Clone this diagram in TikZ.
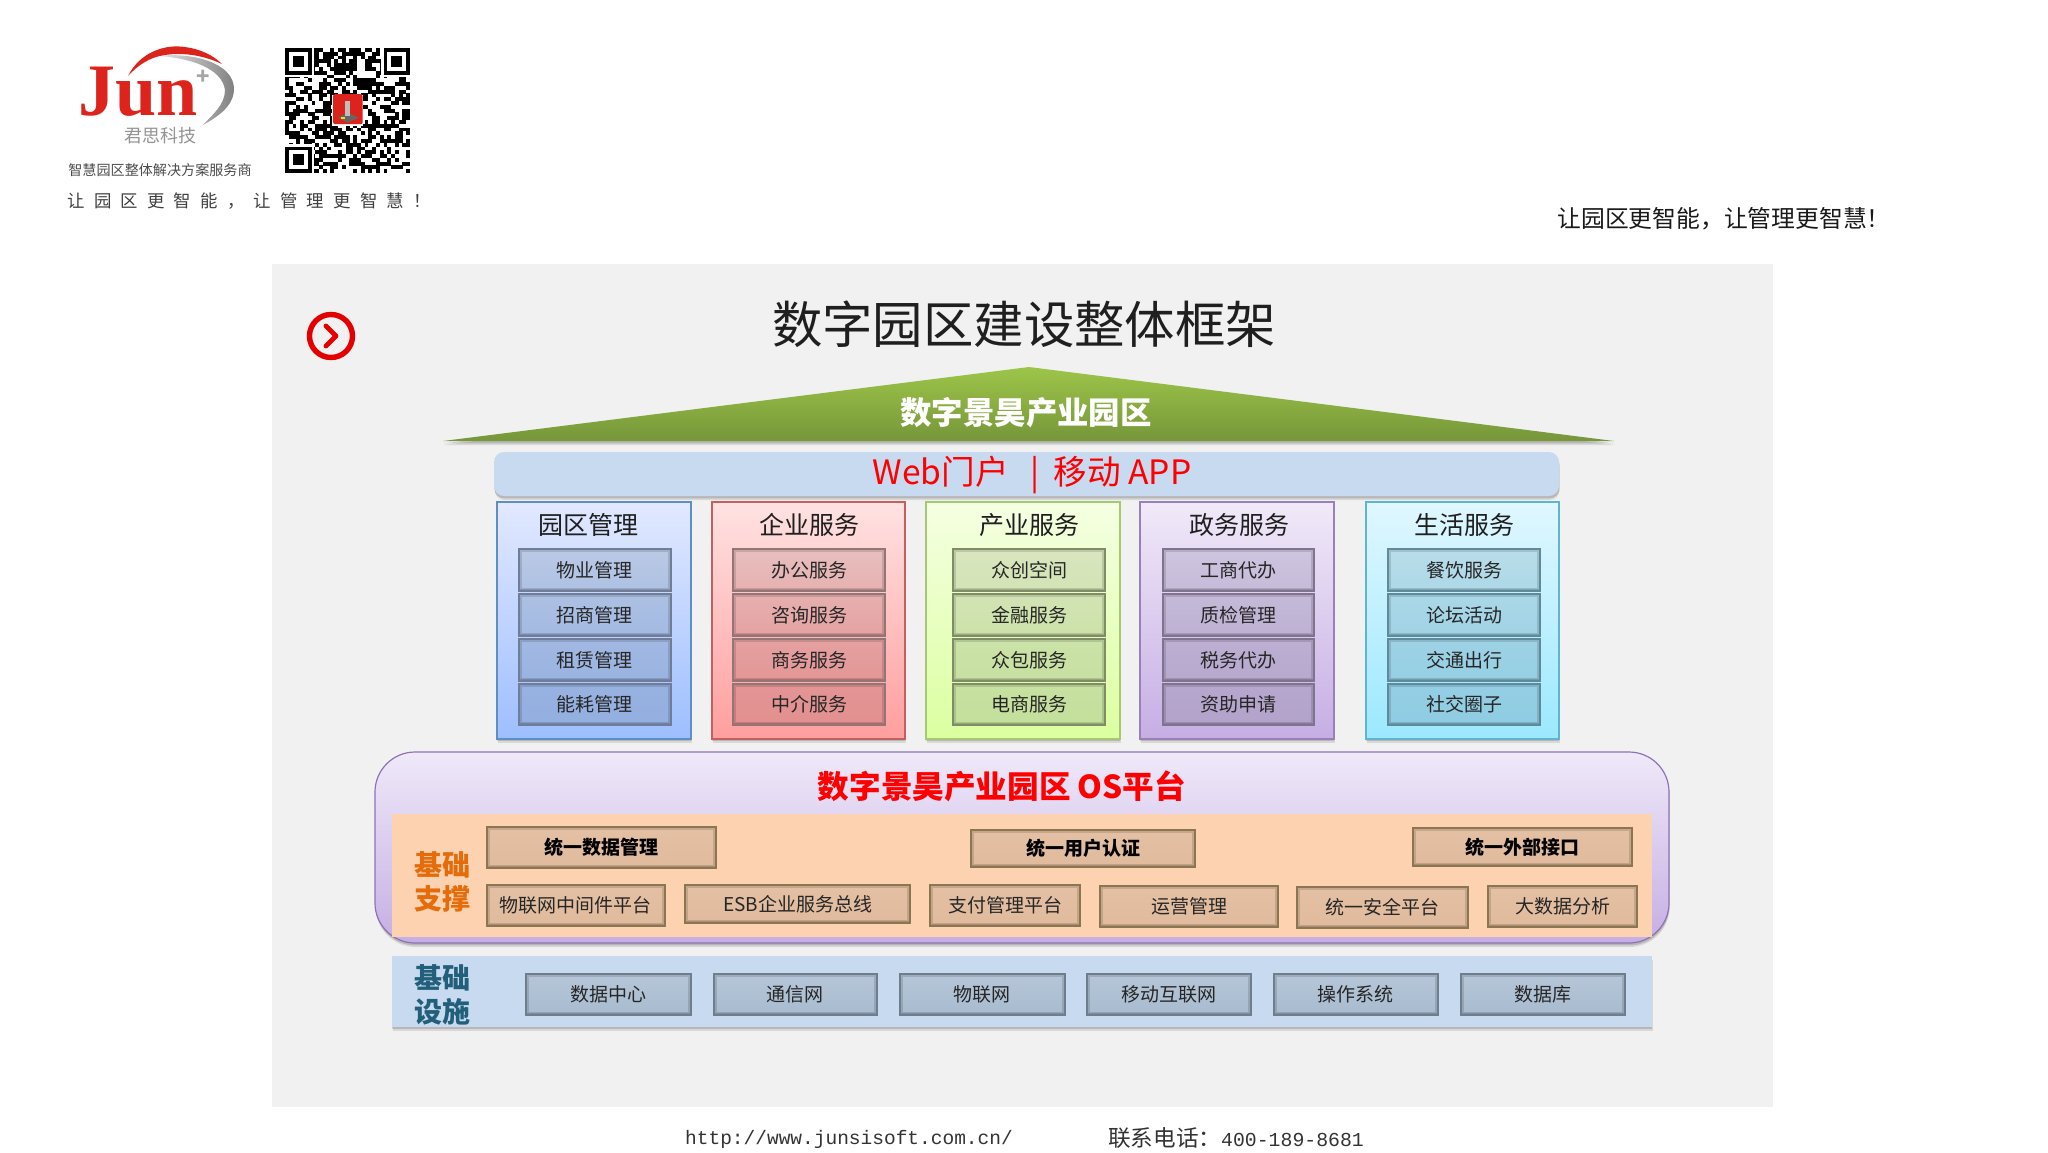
\documentclass[tikz,border=0pt]{standalone}
\usepackage{fontspec}
\setmainfont{Noto Sans CJK SC}
\newfontfamily\latinserif{Liberation Serif}
\newfontfamily\monofam{Liberation Mono}
\newfontfamily\spacedfam[LetterSpace=53]{Noto Sans CJK SC}
\usetikzlibrary{shadows,calc}
\definecolor{pagebg}{HTML}{F1F1F1}
\definecolor{barblue}{HTML}{C8DAF0}
\definecolor{peach}{HTML}{FCD2B0}
\definecolor{basisorange}{HTML}{E46C0A}
\definecolor{basisteal}{HTML}{215F7A}
\definecolor{logored}{HTML}{DC241C}
\newcommand\dc[1]{\definecolor{c#1}{HTML}{#1}}
\dc{9DC549}\dc{76963A}
\dc{E2E9FF}\dc{9DBEFF}\dc{5E8FC4}\dc{FFE2E2}\dc{FF9E9E}\dc{C4605F}
\dc{F5FFE2}\dc{DBFFA0}\dc{A6C870}\dc{F1E9F9}\dc{C6AEE4}\dc{9A80B8}
\dc{E0F7FF}\dc{9CE8FF}\dc{5FB6CC}\dc{EFE9F9}\dc{8E72B4}
\dc{E4C0A4}\dc{E0BA9C}\dc{8C7650}\dc{B6C6D8}\dc{A8BBCF}\dc{6F7E8C}
\dc{6F7D99}\dc{937575}\dc{7F8C66}\dc{7F738F}\dc{5F8A99}
\definecolor{aT}{HTML}{BAC9E5}\definecolor{aB}{HTML}{93AFE0}
\definecolor{bT}{HTML}{E8BFBF}\definecolor{bB}{HTML}{E38F8F}
\definecolor{dT}{HTML}{CEC5DF}\definecolor{dB}{HTML}{B3A3CB}
\definecolor{eT}{HTML}{B9DDE9}\definecolor{eB}{HTML}{8FCCE3}
\definecolor{gT}{HTML}{D9E5BF}\definecolor{gB}{HTML}{C4E09C}
\tikzset{
  softshadow/.style={
    drop shadow={shadow xshift=0.3pt,shadow yshift=-2pt,opacity=.10,fill=black},
    drop shadow={shadow xshift=0.2pt,shadow yshift=-1.2pt,opacity=.15,fill=black}},
  panel/.style n args={3}{top color=c#1,bottom color=c#2,draw=c#3,line width=0.6pt,softshadow},
  item/.style n args={3}{top color=#1,bottom color=#2,draw=#3,line width=1pt,text=black!85,font=\fontsize{9.5}{11}\selectfont,
    path picture={\draw[black,opacity=.13,line width=3pt] (path picture bounding box.south west) rectangle (path picture bounding box.north east);
                  \draw[black,opacity=.13,line width=2pt] (path picture bounding box.south west) -- (path picture bounding box.south east);}},
  orangebox/.style={item={cE4C0A4}{cE0BA9C}{c8C7650}},
  orangebold/.style={orangebox,text=black,font=\fontsize{9.5}{11}\selectfont\bfseries},
  infrabox/.style={item={cB6C6D8}{cA8BBCF}{c6F7E8C}},
  head/.style={text=black!88,font=\fontsize{12.5}{15}\selectfont,inner sep=0pt},
  sidehead/.style={font=\fontsize{14}{17}\selectfont\bfseries,align=center,inner sep=0pt},
}
\newcommand\pbox[7]{%
  \pgfmathsetmacro\cxv{(#2+#4)/2}\pgfmathsetmacro\cyv{(#3+#5)/2}%
  \pgfmathsetmacro\wv{(#4-#2)*0.5}\pgfmathsetmacro\hv{(#5-#3)*0.5}%
  \node[#6,minimum width=\wv pt,minimum height=\hv pt,inner sep=0pt,outer sep=0pt] (#1) at (\cxv,\cyv) {#7};}
% one column of four items: name, x1, x2, top colour, bottom colour, border, four texts
\newcommand\fouritems[6]{\def\fname{#1}\def\fxa{#2}\def\fxb{#3}\def\ftop{#4}\def\fbot{#5}\def\fbor{#6}\fouritemsb}
\newcommand\fouritemsb[4]{%
  \pbox{\fname a}{\fxa}{549}{\fxb}{591}{item={\ftop}{\fbot!30!\ftop}{\fbor}}{#1}%
  \pbox{\fname b}{\fxa}{594}{\fxb}{636}{item={\fbot!33!\ftop}{\fbot!60!\ftop}{\fbor}}{#2}%
  \pbox{\fname c}{\fxa}{639}{\fxb}{681}{item={\fbot!63!\ftop}{\fbot!85!\ftop}{\fbor}}{#3}%
  \pbox{\fname d}{\fxa}{684}{\fxb}{725}{item={\fbot!88!\ftop}{\fbot}{\fbor}}{#4}}
\begin{document}
\begin{tikzpicture}[x=0.5pt,y=-0.5pt]
\useasboundingbox (0,0) rectangle (2048,1152);
\fill[white] (0,0) rectangle (2048,1152);
% ---- logo
\shade[left color=black!10,right color=black!50] (158,56) .. controls (190,52) and (235,62) .. (234,90) .. controls (233,108) and (215,118) .. (203,125) .. controls (212,115) and (225,105) .. (225,90) .. controls (222,68) and (190,58) .. (158,56) -- cycle;
\fill[logored] (128,76) .. controls (140,52) and (165,44) .. (185,47) .. controls (200,49) and (213,55) .. (222,64) .. controls (205,56) and (185,52) .. (165,55) .. controls (150,57) and (138,65) .. (128,76) -- cycle;
\node[text=logored,inner sep=0pt,anchor=base west,font=\fontsize{37}{38}\selectfont\latinserif\bfseries] (logojun) at (78,115) {Jun};
\node[text=black!35,inner sep=0pt,font=\fontsize{11}{11}\selectfont\bfseries] (logoplus) at (203,77) {+};
\node[text=black!42,inner sep=0pt,font=\fontsize{9}{10}\selectfont] (logocn) at (160,136) {君思科技};
\node[text=black!70,inner sep=0pt,font=\fontsize{7.05}{8}\selectfont] (logosub) at (160,170) {智慧园区整体解决方案服务商};
\node[text=black!75,inner sep=0pt,anchor=west,font=\spacedfam\fontsize{8.7}{10}\selectfont] (logoslogan) at (67,201) {让园区更智能，让管理更智慧！};
% ---- QR code
\begin{scope}[shift={(285,48)},x=1.895pt,y=-1.895pt]
  \pgfmathsetseed{4711}
  \foreach \i in {0,...,32}{\foreach \j in {0,...,32}{%
    \pgfmathrandominteger{\qbit}{0}{99}%
    \ifnum\qbit<52 \fill[black] (\i,\j) rectangle ++(1.02,1.02);\fi}}
  \foreach \qx/\qy in {0/0,26/0,0/26}{%
    \fill[white] (\qx-0.6,\qy-0.6) rectangle ++(8.2,8.2);
    \fill[black] (\qx,\qy) rectangle ++(7,7);
    \fill[white] (\qx+1,\qy+1) rectangle ++(5,5);
    \fill[black] (\qx+2,\qy+2) rectangle ++(3,3);}
  \fill[white] (12.3,12.3) rectangle ++(8.4,8.4);
  \fill[logored,rounded corners=1pt] (12.7,12.2) rectangle ++(7.8,7.9);
  \fill[black!60] (14,18.4) -- (16.5,17) -- (19.4,18.4) -- (16.5,19.7) -- cycle;
  \fill[black!25] (15.8,14) rectangle (17.2,18);
  \fill[yellow!80!orange] (14.8,18.1) rectangle (15.8,18.6);
\end{scope}
% ---- top right text
\node[inner sep=0pt,text=black!90,font=\fontsize{11.9}{13}\selectfont] (slogan) at (1724,219) {让园区更智能，让管理更智慧！};
% ---- page panel
\fill[pagebg] (272,264) rectangle (1773,1107);
\node[inner sep=0pt,text=black!88,font=\fontsize{25.2}{30}\selectfont] (title) at (1024,324) {数字园区建设整体框架};
% ---- icon
\draw[red!90!black,line width=2.7pt] (331,336) circle [radius=21.5];
\draw[red!90!black,line width=2.4pt,line cap=round,line join=round] (326,326) -- (336,336) -- (326,346);
% ---- roof
\path[top color=c9DC549,bottom color=c76963A,softshadow] (443,441) -- (1029,367) -- (1614,441) -- cycle;
\node[inner sep=0pt,text=white,font=\fontsize{15.7}{18}\selectfont\bfseries] (rooftext) at (1026,413) {数字景昊产业园区};
% ---- portal bar
\pbox{portal}{494}{452}{1559}{496}{fill=barblue,rounded corners=5pt,softshadow}{}
\node[inner sep=0pt,text=red,font=\fontsize{16.8}{20}\selectfont] (portaltext) at (1032,475) {Web门户\hspace{11pt}|\hspace{7pt}移动 APP};
% ---- service columns
\pbox{colA}{497}{502}{691}{739}{panel={E2E9FF}{9DBEFF}{5E8FC4}}{}
\pbox{colB}{712}{502}{905}{739}{panel={FFE2E2}{FF9E9E}{C4605F}}{}
\pbox{colC}{926}{502}{1120}{739}{panel={F5FFE2}{DBFFA0}{A6C870}}{}
\pbox{colD}{1140}{502}{1334}{739}{panel={F1E9F9}{C6AEE4}{9A80B8}}{}
\pbox{colE}{1366}{502}{1559}{739}{panel={E0F7FF}{9CE8FF}{5FB6CC}}{}
\node[head] (headA) at (588,525) {园区管理};
\node[head] (headB) at (809,525) {企业服务};
\node[head] (headC) at (1029,525) {产业服务};
\node[head] (headD) at (1239,525) {政务服务};
\node[head] (headE) at (1464,525) {生活服务};
\fouritems{itemA}{518.5}{670.5}{aT}{aB}{c6F7D99}{物业管理}{招商管理}{租赁管理}{能耗管理}
\fouritems{itemB}{733}{885}{bT}{bB}{c937575}{办公服务}{咨询服务}{商务服务}{中介服务}
\fouritems{itemC}{953}{1105}{gT}{gB}{c7F8C66}{众创空间}{金融服务}{众包服务}{电商服务}
\fouritems{itemD}{1163}{1314}{dT}{dB}{c7F738F}{工商代办}{质检管理}{税务代办}{资助申请}
\fouritems{itemE}{1388}{1540}{eT}{eB}{c5F8A99}{餐饮服务}{论坛活动}{交通出行}{社交圈子}
% ---- OS platform
\pbox{osplat}{375}{752}{1669}{943}{panel={EFE9F9}{C6AEE4}{8E72B4},rounded corners=20pt}{}
\node[inner sep=0pt,text=red,font=\fontsize{15.8}{19}\selectfont\bfseries] (ostitle) at (1002,786) {数字景昊产业园区 OS平台};
\pbox{support}{392}{814}{1652}{937}{fill=peach}{}
\node[sidehead,text=basisorange] (supporthead) at (442,882) {基础\\支撑};
\pbox{uniA}{486.5}{827}{715.5}{868}{orangebold}{统一数据管理}
\pbox{uniB}{971}{830}{1195}{867}{orangebold}{统一用户认证}
\pbox{uniC}{1413}{828}{1632}{866}{orangebold}{统一外部接口}
\pbox{subA}{486.5}{885}{665}{926}{orangebox}{物联网中间件平台}
\pbox{subB}{685}{885}{910}{923}{orangebox}{ESB企业服务总线}
\pbox{subC}{930}{885}{1080}{926}{orangebox}{支付管理平台}
\pbox{subD}{1100}{886}{1278}{927}{orangebox}{运营管理}
\pbox{subE}{1297}{887}{1468}{928}{orangebox}{统一安全平台}
\pbox{subF}{1488}{886}{1637}{927}{orangebox}{大数据分析}
% ---- infrastructure
\pbox{infra}{392}{956}{1652}{1027}{fill=barblue,softshadow}{}
\node[sidehead,text=basisteal] (infrahead) at (442,995) {基础\\设施};
\pbox{infA}{526}{974}{691}{1015}{infrabox}{数据中心}
\pbox{infB}{713.5}{974}{877}{1015}{infrabox}{通信网}
\pbox{infC}{900}{974}{1064.5}{1015}{infrabox}{物联网}
\pbox{infD}{1087}{974}{1251}{1015}{infrabox}{移动互联网}
\pbox{infE}{1273.5}{974}{1438}{1015}{infrabox}{操作系统}
\pbox{infF}{1461}{974}{1624.5}{1015}{infrabox}{数据库}
% ---- footer
\node[inner sep=0pt,text=black!80,font=\fontsize{9.75}{12}\selectfont\monofam] (footurl) at (849,1139) {http://www.junsisoft.com.cn/};
\node[inner sep=0pt,text=black!80,font=\fontsize{11.3}{13}\selectfont] (foottel) at (1236,1138) {联系电话：{\monofam\fontsize{9.9}{12}\selectfont 400-189-8681}};
\end{tikzpicture}
\end{document}
